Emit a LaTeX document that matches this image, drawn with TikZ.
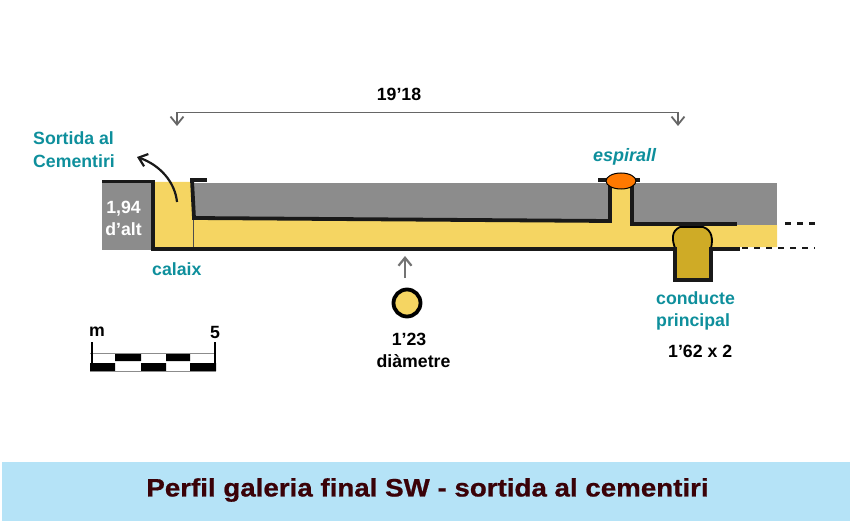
\documentclass[tikz,border=0pt]{standalone}
\usepackage{fontspec}
\setmainfont{Liberation Sans}
\newfontfamily\titolfont[BoldFeatures={FakeBold=0.8,FakeStretch=1.1}]{Liberation Sans}
\usetikzlibrary{arrows.meta, positioning, shapes.geometric}
\definecolor{galeria}{HTML}{F5D562}
\definecolor{roca}{HTML}{8C8C8C}
\definecolor{rotul}{HTML}{0E8F9C}
\definecolor{conducte}{HTML}{CFAB26}
\definecolor{banda}{HTML}{B5E3F7}
\definecolor{titol}{HTML}{3A0208}
\begin{document}
\begin{tikzpicture}[x=1pt, y=-1pt,
      lbl/.style={font=\bfseries\fontsize{17.7}{22.5}\selectfont, align=left, text=rotul, inner sep=0pt},
      dada/.style={font=\bfseries\fontsize{17.7}{22}\selectfont, align=center, inner sep=0pt},
      mur/.style={line width=3.8pt, black!90},
      fletxa/.style={line width=2.2pt, black!55, -{Straight Barb[length=8pt,width=13pt]}}]
    \useasboundingbox (0,0) rectangle (850,521);
    % rock
    \fill[roca] (102,182) rectangle (153,250);
    \fill[roca] (193,183) rectangle (610,220);
    \fill[roca] (632,183) rectangle (777,226);
    % gallery
    \fill[galeria] (153,182) -- (192,182) -- (194,219) -- (610,222) -- (610,185) -- (632,185) -- (632,225)
        -- (777,225) -- (777,247) -- (153,248) -- cycle;
    \draw[black!70, line width=0.6pt] (193.5,219) -- (193.5,248);
    % walls
    \draw[mur] (102,181.5) -- (153,181.5) -- (153,249) -- (740,249);
    \draw[mur] (190,180) -- (207,180);
    \draw[mur] (192,180) -- (194,218) -- (610,221) -- (610,180);
    \draw[mur] (632,180) -- (632,224) -- (737,224);
    \draw[mur] (598,180) -- (640,180);
    % main conduit
    \fill[conducte] (675,280) -- (675,248)
        .. controls (672,240) and (671,231) .. (680,227) -- (703,227)
        .. controls (712.5,230) and (713,240) .. (711,248) -- (711,280) -- cycle;
    \draw[black, line width=1.8pt] (675,248)
        .. controls (672,240) and (671,231) .. (680,227) -- (703,227)
        .. controls (712.5,230) and (713,240) .. (711,248);
    \draw[mur, line width=4.4pt] (675,247) -- (675,280) -- (711,280) -- (711,247);
    % vent
    \node[ellipse, draw=black, fill=orange!95!red, line width=1pt, minimum width=30pt, minimum height=16pt, inner sep=0pt] (vent) at (621,181) {};
    % dashes
    \draw[mur, line width=2.2pt, dash pattern=on 6pt off 6pt] (785,223.5) -- (815,223.5);
    \draw[mur, line width=2.2pt, dash pattern=on 6pt off 6pt] (742,248) -- (815,248);
    % dimension
    \coordinate (dimA) at (177,126);
    \coordinate (dimB) at (678,126);
    \draw[black!60, line width=1.8pt, {Straight Barb[length=8pt,width=13pt]}-{Straight Barb[length=8pt,width=13pt]}]
        (dimA) -- (177,112.5) -- (678,112.5) -- (dimB);
    \node[dada] (mida) at (399,94) {19’18};
    % section
    \node[circle, draw=black, fill=galeria, line width=3.8pt, minimum size=27pt, inner sep=0pt] (seccio) at (407,303) {};
    \coordinate (gal) at (405,256);
    \draw[fletxa] (405,278) -- (gal);
    \node[dada] (diam) at (413.5,350) {1’23\hspace*{9pt}\\diàmetre};
    % exit
    \coordinate (ara) at (177,202);
    \coordinate (sortida) at (137,157);
    \draw[line width=2.2pt, black!90, -{Straight Barb[length=8pt,width=13pt]}] (ara) .. controls (175,182) and (160,165) .. (sortida);
    % labels
    \node[lbl, anchor=west] (sort) at (33,149.5) {Sortida al\\Cementiri};
    \node[lbl, anchor=west] (cal) at (152,269) {calaix};
    \node[lbl, anchor=west, font=\bfseries\itshape\fontsize{18}{22}\selectfont] (esp) at (593,157) {espirall};
    \node[lbl, anchor=west] (cond) at (656,311) {conducte\\principal};
    \node[dada, anchor=west] (mesura) at (668,351) {1’62 x 2};
    \node[dada, text=white] (alt) at (123.5,218) {1,94\\d’alt};
    % scale bar
    \fill[black] (115,353) rectangle (141,361) (166,353) rectangle (190,361);
    \fill[black] (90,363) rectangle (115,371) (141,363) rectangle (166,371) (190,363) rectangle (216,371);
    \draw[black!45, line width=0.8pt] (90,353) -- (216,353) (90,371.5) -- (216,371.5);
    \draw[black, line width=2pt] (92,342) -- (92,370) (215,342) -- (215,370);
    \node[dada] (m0) at (97,332) {m};
    \node[dada] (m5) at (215,332) {5};
    % title
    \fill[banda] (2,462) rectangle (850,521);
    \node[font=\titolfont\bfseries\fontsize{25.2}{28}\selectfont, text=titol, inner sep=0pt] (tit) at (427.5,490) {Perfil galeria final SW - sortida al cementiri};
\end{tikzpicture}
\end{document}
